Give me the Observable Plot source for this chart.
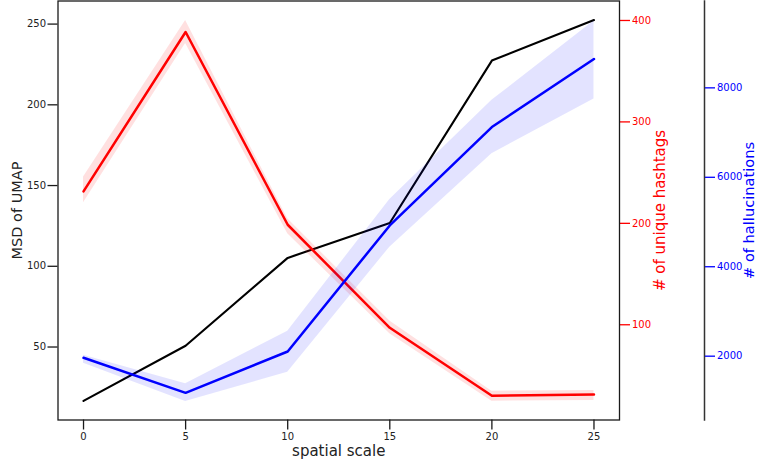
<!DOCTYPE html>
<html><head><meta charset="utf-8">
<script src="https://cdn.jsdelivr.net/npm/d3@7"></script>
<script src="https://cdn.jsdelivr.net/npm/@observablehq/plot@0.6"></script>
<style>
html,body{margin:0;padding:0;background:#fff;}
#chart{position:relative;width:757px;height:463px;background:#fff;}
#chart svg{position:absolute;left:0;top:0;}
</style></head><body><div id="chart"></div>
<script>
// ---- data ----
const spatialScale = [0, 5, 10, 15, 20, 25];
const msdUmap = [16.6, 50.8, 105.2, 126.8, 227.4, 252.5];
const uniqueHashtags = [231.5, 388.6, 198.6, 97.0, 30.0, 31.3];
const uniqueHashtagsLow = [220.3, 377.4, 189.7, 91.1, 24.7, 25.4];
const uniqueHashtagsHigh = [245.6, 400.0, 204.5, 103.6, 34.5, 35.2];
const hallucinations = [1964, 1181, 2105, 4924, 7123, 8644];
const hallucinationsLow = [1840, 987, 1642, 4438, 6528, 7750];
const hallucinationsHigh = [2020, 1383, 2559, 5505, 7720, 9494];

const xTicks = [0, 5, 10, 15, 20, 25];
const msdTicks = [50, 100, 150, 200, 250];
const hashtagTicks = [100, 200, 300, 400];
const hallucTicks = [2000, 4000, 6000, 8000];

const xLabel = "spatial scale";
const msdLabel = "MSD of UMAP";
const hashtagLabel = "# of unique hashtags";
const hallucLabel = "# of hallucinations";

const rows = spatialScale.map((s, i) => ({
  s, msd: msdUmap[i],
  ht: uniqueHashtags[i], htLo: uniqueHashtagsLow[i], htHi: uniqueHashtagsHigh[i],
  ha: hallucinations[i], haLo: hallucinationsLow[i], haHi: hallucinationsHigh[i]
}));

const W = 757, H = 463;
const base = {
  width: W, height: H,
  marginLeft: 57.5, marginRight: 138, marginTop: 0.5, marginBottom: 43.5,
  x: {domain: [-1.25, 26.25], range: [57.5, 619], axis: null},
  style: {background: "transparent", fontFamily: "DejaVu Sans, sans-serif", fontSize: "10px", overflow: "visible"}
};

const p1 = Plot.plot({
  ...base,
  style: {...base.style, background: "white"},
  y: {domain: [4.8, 264.3]},
  marks: [
    Plot.lineY(rows, {x: "s", y: "msd", stroke: "black", strokeWidth: 2.1}),
    Plot.axisX({ticks: xTicks, tickSize: 10, tickPadding: 3, label: null, stroke: "#1a1a1a", fill: "#222", strokeWidth: 1.3}),
    Plot.axisY({ticks: msdTicks, anchor: "left", tickSize: 10, tickPadding: 2, label: null, stroke: "#1a1a1a", fill: "#222", strokeWidth: 1.3}),
    Plot.text([xLabel], {text: d => d, frameAnchor: "bottom", lineAnchor: "middle", textAnchor: "middle", dy: 31.5, fontSize: 15, fill: "#222"}),
    Plot.text([msdLabel], {text: d => d, frameAnchor: "left", lineAnchor: "middle", textAnchor: "middle", rotate: -90, dx: -40.5, fontSize: 14.5, fill: "#222"})
  ]
});

const p2 = Plot.plot({
  ...base,
  y: {domain: [6.1, 419.2]},
  marks: [
    Plot.areaY(rows, {x: "s", y1: "htLo", y2: "htHi", fill: "red", fillOpacity: 0.12}),
    Plot.lineY(rows, {x: "s", y: "ht", stroke: "red", strokeWidth: 2.5}),
    Plot.axisY({ticks: hashtagTicks, anchor: "right", tickSize: 10, tickPadding: 2.5, label: null, stroke: "red", fill: "red", strokeWidth: 1.3}),
    Plot.text([hashtagLabel], {text: d => d, frameAnchor: "right", lineAnchor: "middle", textAnchor: "middle", rotate: -90, dx: 41, fontSize: 15, fill: "red"})
  ]
});

const p3 = Plot.plot({
  ...base,
  marginRight: 53,
  y: {domain: [573, 9942]},
  marks: [
    Plot.areaY(rows, {x: "s", y1: "haLo", y2: "haHi", fill: "blue", fillOpacity: 0.11}),
    Plot.lineY(rows, {x: "s", y: "ha", stroke: "blue", strokeWidth: 2.5}),
    Plot.frame({anchor: "right", stroke: "#333", strokeWidth: 1.5}),
    Plot.axisY({ticks: hallucTicks, tickFormat: d3.format("d"), anchor: "right", tickSize: 10, tickPadding: 2.5, label: null, stroke: "blue", fill: "blue", strokeWidth: 1.3}),
    Plot.text([hallucLabel], {text: d => d, frameAnchor: "right", lineAnchor: "middle", textAnchor: "middle", rotate: -90, dx: 44.5, fontSize: 14.6, fill: "blue"})
  ]
});

const frameOnly = Plot.plot({
  ...base,
  y: {domain: [0, 1], axis: null},
  marks: [Plot.frame({stroke: "#1a1a1a", strokeWidth: 1.3})]
});

const c = document.getElementById("chart");
c.append(p1, p2, p3, frameOnly);
</script></body></html>
